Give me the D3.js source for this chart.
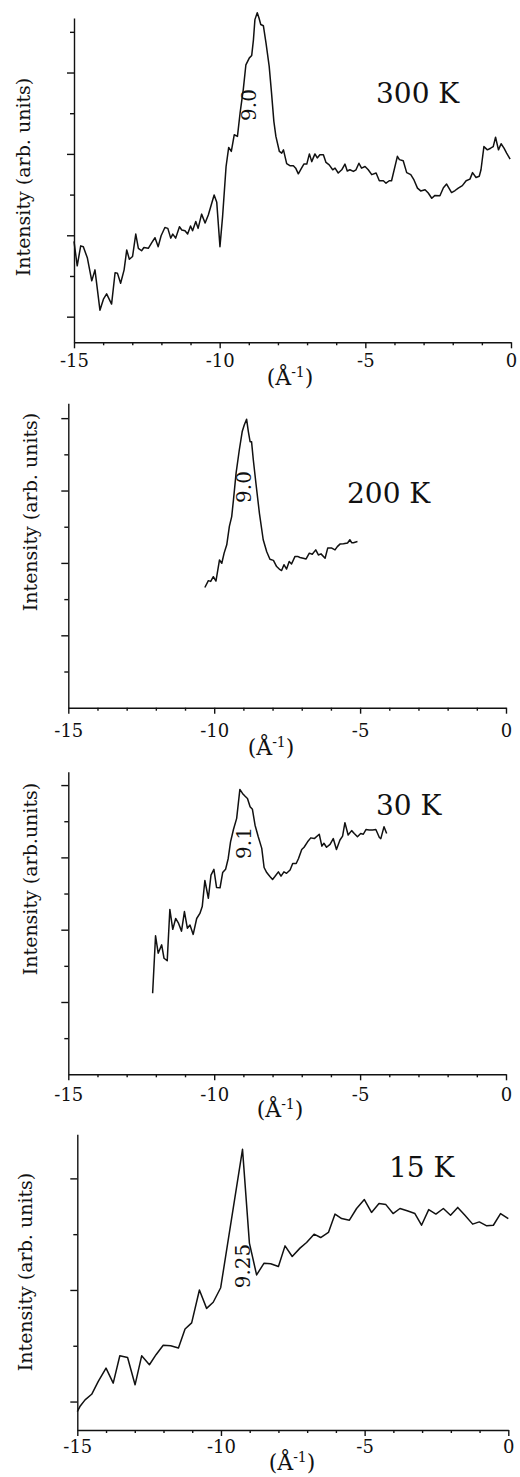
<!DOCTYPE html>
<html>
<head>
<meta charset="utf-8">
<script src="https://cdn.jsdelivr.net/npm/d3@7.9.0/dist/d3.min.js"></script>
<style>
  body { margin: 0; background: #fff; }
</style>
</head>
<body>
<script>
// wave vector (Å^-1) and intensity (arb. units)
const q300 = [-15.00,-14.89,-14.77,-14.68,-14.54,-14.39,-14.28,-14.11,-13.99,-13.88,
  -13.71,-13.59,-13.51,-13.40,-13.28,-13.19,-13.10,-12.99,-12.88,-12.79,
  -12.68,-12.60,-12.45,-12.33,-12.22,-12.11,-12.01,-11.88,-11.78,-11.68,
  -11.61,-11.51,-11.38,-11.30,-11.19,-11.10,-11.00,-10.93,-10.82,-10.74,
  -10.62,-10.50,-10.39,-10.19,-10.10,-9.99,-9.90,-9.78,-9.69,-9.60,
  -9.50,-9.39,-9.30,-9.19,-9.10,-8.98,-8.90,-8.84,-8.79,-8.71,
  -8.65,-8.59,-8.50,-8.41,-8.30,-8.22,-8.14,-8.07,-7.95,-7.87,
  -7.81,-7.70,-7.59,-7.47,-7.39,-7.30,-7.19,-7.11,-7.01,-6.92,
  -6.84,-6.73,-6.65,-6.56,-6.44,-6.35,-6.24,-6.12,-6.04,-5.93,
  -5.81,-5.70,-5.62,-5.53,-5.41,-5.32,-5.22,-5.13,-5.01,-4.90,
  -4.78,-4.63,-4.52,-4.38,-4.29,-4.18,-4.10,-3.90,-3.83,-3.70,
  -3.58,-3.44,-3.33,-3.21,-3.10,-2.95,-2.84,-2.72,-2.61,-2.44,
  -2.32,-2.21,-2.04,-1.92,-1.81,-1.67,-1.54,-1.41,-1.32,-1.20,
  -1.09,-1.03,-0.93,-0.81,-0.70,-0.61,-0.53,-0.43,-0.34,-0.24,
  -0.15,-0.03];
const i300 = [2.85,2.25,2.74,2.72,2.44,1.88,2.15,1.16,1.43,1.56,
  1.31,2.08,2.07,1.82,2.15,2.64,2.41,2.48,3.03,2.68,
  2.62,2.70,2.68,2.82,2.94,2.72,2.99,3.19,3.17,2.93,
  3.03,2.93,3.21,3.13,3.11,3.03,3.23,3.11,3.34,3.17,
  3.52,3.30,3.50,3.99,3.81,2.72,3.46,4.69,5.16,5.06,
  5.47,5.43,6.00,6.58,7.19,7.36,7.42,7.81,8.30,8.47,
  8.34,8.18,8.15,7.73,7.15,6.50,5.80,5.43,5.06,5.02,
  5.10,4.76,4.71,4.71,4.65,4.51,4.65,4.75,4.75,5.00,
  4.81,5.00,4.90,4.98,4.98,4.79,4.73,4.61,4.65,4.53,
  4.61,4.75,4.58,4.61,4.57,4.61,4.77,4.65,4.69,4.61,
  4.49,4.53,4.34,4.34,4.28,4.34,4.34,4.94,4.86,4.83,
  4.54,4.49,4.36,4.16,4.09,4.12,4.04,3.91,3.98,3.97,
  4.17,4.26,4.05,4.10,4.16,4.22,4.34,4.38,4.54,4.42,
  4.45,4.61,5.18,5.10,5.14,5.18,5.41,5.10,5.25,5.14,
  5.02,4.87];

const q200 = [-10.32,-10.20,-10.12,-10.03,-9.94,-9.82,-9.74,-9.66,-9.57,-9.48,
  -9.40,-9.34,-9.25,-9.14,-9.04,-8.97,-8.89,-8.83,-8.77,-8.72,
  -8.66,-8.57,-8.45,-8.32,-8.20,-8.09,-7.97,-7.86,-7.77,-7.69,
  -7.61,-7.52,-7.43,-7.35,-7.23,-7.14,-7.06,-6.95,-6.85,-6.74,
  -6.64,-6.52,-6.43,-6.34,-6.20,-6.11,-5.97,-5.86,-5.78,-5.69,
  -5.57,-5.43,-5.35,-5.29,-5.23,-5.09];
const i200 = [3.32,3.51,3.49,3.62,3.50,4.08,3.99,4.27,4.50,5.01,
  5.28,5.74,6.48,7.12,7.63,7.81,7.97,7.63,7.35,7.35,
  6.85,6.20,5.37,4.64,4.31,4.10,4.07,3.90,3.83,3.79,
  3.95,3.83,4.04,3.97,4.18,4.18,4.15,4.13,4.11,4.27,
  4.24,4.36,4.22,4.25,4.13,4.41,4.41,4.36,4.45,4.52,
  4.53,4.55,4.64,4.56,4.56,4.59];

const q30 = [-12.11,-12.01,-11.92,-11.80,-11.72,-11.61,-11.52,-11.42,-11.32,-11.23,
  -11.12,-11.02,-10.92,-10.83,-10.72,-10.60,-10.49,-10.41,-10.32,-10.20,
  -10.11,-10.01,-9.92,-9.80,-9.71,-9.61,-9.52,-9.44,-9.34,-9.23,
  -9.12,-9.03,-8.94,-8.86,-8.77,-8.69,-8.60,-8.49,-8.37,-8.29,
  -8.20,-8.09,-8.00,-7.92,-7.80,-7.71,-7.61,-7.52,-7.40,-7.31,
  -7.19,-7.11,-7.00,-6.92,-6.80,-6.69,-6.57,-6.40,-6.31,-6.24,
  -6.15,-6.03,-5.92,-5.81,-5.69,-5.60,-5.52,-5.41,-5.29,-5.20,
  -5.09,-4.98,-4.89,-4.80,-4.69,-4.57,-4.46,-4.34,-4.29,-4.18,
  -4.09];
const i30 = [2.24,3.83,3.35,3.58,3.21,3.14,4.56,4.01,4.31,4.19,
  3.96,4.50,4.04,4.13,3.87,4.31,4.45,4.64,5.36,4.87,
  5.51,5.67,5.17,5.16,5.58,5.67,5.97,6.43,6.77,7.08,
  7.88,7.77,7.69,7.63,7.40,7.33,6.89,6.57,6.25,5.72,
  5.58,5.47,5.39,5.47,5.60,5.48,5.60,5.56,5.65,5.83,
  5.83,5.97,6.22,6.28,6.43,6.54,6.52,6.64,6.31,6.39,
  6.28,6.36,6.52,6.22,6.48,6.59,6.96,6.62,6.74,6.66,
  6.57,6.66,6.64,6.77,6.76,6.76,6.77,6.55,6.52,6.85,
  6.66];

const q15 = [-15.00,-14.91,-14.73,-14.50,-14.27,-14.00,-13.75,-13.52,-13.25,-12.99,
  -12.76,-12.49,-12.26,-12.01,-11.75,-11.48,-11.25,-11.02,-10.75,-10.50,
  -10.27,-10.01,-9.25,-9.01,-8.76,-8.50,-8.27,-8.00,-7.77,-7.52,
  -7.25,-7.02,-6.76,-6.53,-6.26,-6.03,-5.80,-5.53,-5.28,-5.01,
  -4.76,-4.50,-4.26,-4.01,-3.77,-3.52,-3.25,-3.02,-2.77,-2.52,
  -2.26,-2.01,-1.76,-1.51,-1.24,-1.01,-0.75,-0.52,-0.27,0.00];
const i15 = [0.82,0.91,1.03,1.13,1.36,1.60,1.33,1.82,1.79,1.30,
  1.82,1.66,1.84,2.01,2.00,1.96,2.30,2.41,3.00,2.67,
  2.78,3.04,5.52,3.84,3.27,3.48,3.47,3.42,3.79,3.60,
  3.75,3.85,4.00,3.94,4.03,4.36,4.28,4.25,4.46,4.62,
  4.39,4.55,4.53,4.37,4.46,4.42,4.37,4.16,4.44,4.36,
  4.46,4.34,4.48,4.34,4.18,4.22,4.15,4.16,4.37,4.28];

// tick labels
const xMajor = [-15, -10, -5, 0];
const xMinor = d3.range(-14, 0).filter(d => d % 5 !== 0);

// panels: data + layout
const panels = [
  { q: q300, v: i300, temp: '300 K', peak: '9.0', ylabel: 'Intensity (arb. units)',
    left: 74, right: 511, top: 18, bottom: 342.3, yDomain: [0.37, 8.34],
    yMajor: [1, 3, 5, 7], yMinor: [2, 4, 6, 8],
    tempPos: [376, 103], peakPos: [256, 105], ylabPos: [30, 177], titlePos: [290, 385], tickY: 25 },
  { q: q200, v: i200, temp: '200 K', peak: '9.0', ylabel: 'Intensity (arb. units)',
    left: 68.3, right: 506, top: 403.3, bottom: 707.7, yDomain: [0, 8.41],
    yMajor: [2, 4, 6, 8], yMinor: [1, 3, 5, 7],
    tempPos: [347, 503], peakPos: [251, 487], ylabPos: [37, 512], titlePos: [271, 755], tickY: 29 },
  { q: q30, v: i30, temp: '30 K', peak: '9.1', ylabel: 'Intensity (arb.units)',
    left: 68.3, right: 506, top: 771.7, bottom: 1074.3, yDomain: [0, 8.37],
    yMajor: [2, 4, 6, 8], yMinor: [1, 3, 5, 7],
    tempPos: [376, 815], peakPos: [250.5, 843], ylabPos: [37, 879], titlePos: [280, 1117], tickY: 27 },
  { q: q15, v: i15, temp: '15 K', peak: '9.25', ylabel: 'Intensity (arb. units)',
    left: 77.3, right: 508.3, top: 1134.3, bottom: 1430, yDomain: [0.49, 5.79],
    yMajor: [1, 3, 5], yMinor: [2, 4],
    tempPos: [389, 1177], peakPos: [249.5, 1266], ylabPos: [32, 1272], titlePos: [292, 1470], tickY: 23 }
];

const serif = '"DejaVu Serif", serif';

const svg = d3.select('body').append('svg')
  .attr('width', 520)
  .attr('height', 1477)
  .attr('font-family', serif);

function styleAxis(g) {
  g.attr('font-family', serif).attr('font-size', null);
  g.selectAll('path, line').attr('stroke', '#111').attr('stroke-width', 1.4);
}

function addText(sel, size) {
  return sel.append('text')
    .attr('font-family', serif)
    .attr('font-size', size)
    .attr('fill', '#111');
}

panels.forEach(p => {
  const x = d3.scaleLinear().domain([-15, 0]).range([p.left, p.right]);
  const y = d3.scaleLinear().domain(p.yDomain).range([p.bottom, p.top]);

  // x axis: long ticks with labels, short ones without
  svg.append('g')
    .attr('transform', `translate(0,${p.bottom})`)
    .call(d3.axisBottom(x).tickValues(xMinor).tickSize(3).tickSizeOuter(0).tickFormat(''))
    .call(g => g.select('.domain').remove())
    .call(styleAxis);
  svg.append('g')
    .attr('transform', `translate(0,${p.bottom})`)
    .call(d3.axisBottom(x).tickValues(xMajor).tickSize(6).tickSizeOuter(0).tickFormat(d => String(d)))
    .call(styleAxis)
    .call(g => g.selectAll('text')
      .attr('y', p.tickY).attr('dy', null)
      .attr('fill', '#111')
      .attr('font-size', 18));

  // y axis, no labels
  svg.append('g')
    .attr('transform', `translate(${p.left},0)`)
    .call(d3.axisLeft(y).tickValues(p.yMinor).tickSize(4).tickSizeOuter(0).tickFormat(''))
    .call(g => g.select('.domain').remove())
    .call(styleAxis);
  svg.append('g')
    .attr('transform', `translate(${p.left},0)`)
    .call(d3.axisLeft(y).tickValues(p.yMajor).tickSize(7).tickSizeOuter(0).tickFormat(''))
    .call(styleAxis);

  // spectrum
  const line = d3.line().x(d => x(d[0])).y(d => y(d[1]));
  svg.append('path')
    .datum(d3.zip(p.q, p.v))
    .attr('d', line)
    .attr('fill', 'none')
    .attr('stroke', '#111')
    .attr('stroke-width', 1.5)
    .attr('stroke-linejoin', 'round');

  // axis titles
  const t = addText(svg, 22)
    .attr('x', p.titlePos[0]).attr('y', p.titlePos[1])
    .attr('text-anchor', 'middle');
  t.append('tspan').text('(Å');
  t.append('tspan').attr('dy', -8).attr('font-size', 14).text('-1');
  t.append('tspan').attr('dy', 8).text(')');

  addText(svg, 19)
    .attr('transform', `translate(${p.ylabPos[0]},${p.ylabPos[1]}) rotate(-90)`)
    .attr('text-anchor', 'middle')
    .text(p.ylabel);

  // temperature and peak position
  addText(svg, 28)
    .attr('x', p.tempPos[0]).attr('y', p.tempPos[1])
    .text(p.temp);

  addText(svg, 20)
    .attr('transform', `translate(${p.peakPos[0]},${p.peakPos[1]}) rotate(-90)`)
    .attr('text-anchor', 'middle')
    .text(p.peak);
});
</script>
</body>
</html>
